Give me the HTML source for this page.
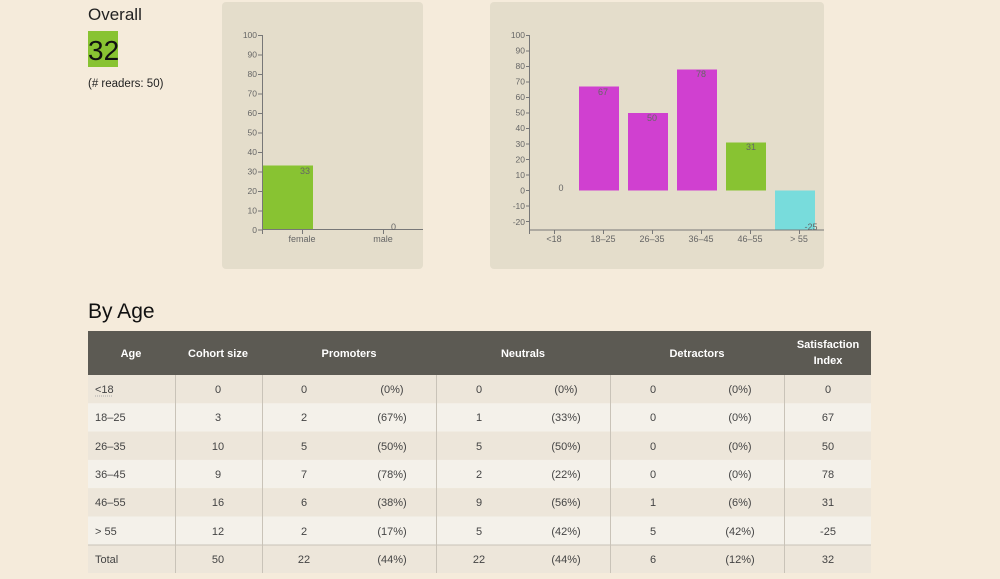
<!DOCTYPE html>
<html><head><meta charset="utf-8"><style>
html,body{margin:0;padding:0;background:#f5ebdb;width:1000px;height:579px;overflow:hidden}
svg{display:block;font-family:"Liberation Sans",sans-serif}
</style></head><body>
<svg width="1000" height="579" viewBox="0 0 1000 579" xmlns="http://www.w3.org/2000/svg">
<rect width="1000" height="579" fill="#f5ebdb"/>
<!-- Overall -->
<text x="88" y="20" font-size="17" fill="#222">Overall</text>
<rect x="88" y="31" width="30" height="36" fill="#88c332"/>
<text x="88" y="60" font-size="28" fill="#111">32</text>
<text x="88" y="87" font-size="11.5" fill="#222">(# readers: 50)</text>

<!-- Chart 1 -->
<rect x="222" y="2" width="201" height="267" rx="4" fill="#e4ddcb"/>
<g font-size="8.5" fill="#666" text-anchor="end">
<text x="257" y="38">100</text><text x="257" y="57.5">90</text><text x="257" y="77">80</text><text x="257" y="96.5">70</text><text x="257" y="116">60</text><text x="257" y="135.5">50</text><text x="257" y="155">40</text><text x="257" y="174.5">30</text><text x="257" y="194">20</text><text x="257" y="213.5">10</text><text x="257" y="233">0</text>
</g>
<g stroke="#777" stroke-width="1">
<line x1="262.5" y1="35" x2="262.5" y2="234"/>
<line x1="258" y1="35.5" x2="262" y2="35.5"/><line x1="258" y1="55" x2="262" y2="55"/><line x1="258" y1="74.5" x2="262" y2="74.5"/><line x1="258" y1="94" x2="262" y2="94"/><line x1="258" y1="113.5" x2="262" y2="113.5"/><line x1="258" y1="133" x2="262" y2="133"/><line x1="258" y1="152.5" x2="262" y2="152.5"/><line x1="258" y1="172" x2="262" y2="172"/><line x1="258" y1="191.5" x2="262" y2="191.5"/><line x1="258" y1="211" x2="262" y2="211"/><line x1="258" y1="230" x2="262" y2="230"/>
</g>
<rect x="263" y="165.5" width="50" height="64" fill="#88c332"/>
<line x1="262" y1="229.5" x2="423" y2="229.5" stroke="#777"/>
<line x1="302.5" y1="229" x2="302.5" y2="234" stroke="#777"/>
<line x1="383.5" y1="229" x2="383.5" y2="234" stroke="#777"/>
<text x="310" y="174" font-size="9" fill="#666" text-anchor="end">33</text>
<text x="396" y="230" font-size="9" fill="#666" text-anchor="end">0</text>
<text x="302" y="242" font-size="9" fill="#666" text-anchor="middle">female</text>
<text x="383" y="242" font-size="9" fill="#666" text-anchor="middle">male</text>

<!-- Chart 2 -->
<rect x="490" y="2" width="334" height="267" rx="4" fill="#e4ddcb"/>
<g font-size="8.5" fill="#666" text-anchor="end">
<text x="525" y="38">100</text><text x="525" y="53.5">90</text><text x="525" y="69">80</text><text x="525" y="84.5">70</text><text x="525" y="100">60</text><text x="525" y="115.5">50</text><text x="525" y="131">40</text><text x="525" y="147">30</text><text x="525" y="162.5">20</text><text x="525" y="178">10</text><text x="525" y="193.5">0</text><text x="525" y="209">-10</text><text x="525" y="225">-20</text>
</g>
<g stroke="#777" stroke-width="1">
<line x1="529.5" y1="35" x2="529.5" y2="234"/>
<line x1="526" y1="35.5" x2="529" y2="35.5"/><line x1="526" y1="51" x2="529" y2="51"/><line x1="526" y1="66.5" x2="529" y2="66.5"/><line x1="526" y1="82" x2="529" y2="82"/><line x1="526" y1="97.5" x2="529" y2="97.5"/><line x1="526" y1="113" x2="529" y2="113"/><line x1="526" y1="128.5" x2="529" y2="128.5"/><line x1="526" y1="144" x2="529" y2="144"/><line x1="526" y1="159.5" x2="529" y2="159.5"/><line x1="526" y1="175" x2="529" y2="175"/><line x1="526" y1="190.5" x2="529" y2="190.5"/><line x1="526" y1="206" x2="529" y2="206"/><line x1="526" y1="221.5" x2="529" y2="221.5"/>
</g>
<rect x="579" y="86.5" width="40" height="104" fill="#d040d0"/>
<rect x="628" y="113" width="40" height="77.5" fill="#d040d0"/>
<rect x="677" y="69.5" width="40" height="121" fill="#d040d0"/>
<rect x="726" y="142.5" width="40" height="48" fill="#88c332"/>
<rect x="775" y="190.5" width="40" height="39" fill="#78dcdc"/>
<line x1="529" y1="230" x2="824" y2="230" stroke="#777"/>
<g stroke="#777"><line x1="554.5" y1="230" x2="554.5" y2="234"/><line x1="603.5" y1="230" x2="603.5" y2="234"/><line x1="652.5" y1="230" x2="652.5" y2="234"/><line x1="701.5" y1="230" x2="701.5" y2="234"/><line x1="750.5" y1="230" x2="750.5" y2="234"/><line x1="799.5" y1="230" x2="799.5" y2="234"/></g>
<g font-size="9" fill="#666" text-anchor="middle">
<text x="561" y="191">0</text><text x="603" y="95">67</text><text x="652" y="121">50</text><text x="701" y="77">78</text><text x="751" y="150">31</text><text x="811" y="230">-25</text>
<text x="554" y="242">&lt;18</text><text x="603" y="242">18–25</text><text x="652" y="242">26–35</text><text x="701" y="242">36–45</text><text x="750" y="242">46–55</text><text x="799" y="242">&gt; 55</text>
</g>

<!-- By Age -->
<text x="88" y="318" font-size="21" fill="#111">By Age</text>
<rect x="88" y="331" width="783" height="44" fill="#5c5a53"/>
<g font-size="11" font-weight="bold" fill="#fff" text-anchor="middle">
<text x="131" y="357">Age</text><text x="218" y="357">Cohort size</text><text x="349" y="357">Promoters</text><text x="523" y="357">Neutrals</text><text x="697" y="357">Detractors</text><text x="828" y="348">Satisfaction</text><text x="828" y="364">Index</text>
</g>
<rect x="88" y="375" width="783" height="28.3" fill="#ede6da"/>
<rect x="88" y="403.3" width="783" height="28.3" fill="#f4f1ea"/>
<rect x="88" y="431.6" width="783" height="28.3" fill="#ede6da"/>
<rect x="88" y="459.9" width="783" height="28.3" fill="#f4f1ea"/>
<rect x="88" y="488.2" width="783" height="28.3" fill="#ede6da"/>
<rect x="88" y="516.5" width="783" height="28.3" fill="#f4f1ea"/>
<rect x="88" y="544.8" width="783" height="28.2" fill="#ede6da"/>
<line x1="88" y1="545" x2="871" y2="545" stroke="#c9c3b8"/>
<g stroke="#c9c3b8"><line x1="175.5" y1="375" x2="175.5" y2="573"/><line x1="262.5" y1="375" x2="262.5" y2="573"/><line x1="436.5" y1="375" x2="436.5" y2="573"/><line x1="610.5" y1="375" x2="610.5" y2="573"/><line x1="784.5" y1="375" x2="784.5" y2="573"/></g>
<line x1="95" y1="396" x2="113" y2="396" stroke="#aaa" stroke-dasharray="1,1"/>
<g font-size="11" fill="#444">
<text x="95" y="393">&lt;18</text><text x="95" y="421">18–25</text><text x="95" y="450">26–35</text><text x="95" y="478">36–45</text><text x="95" y="506">46–55</text><text x="95" y="535">&gt; 55</text><text x="95" y="563">Total</text>
</g>
<g font-size="11" fill="#444" text-anchor="middle">
<text x="218" y="393">0</text><text x="304" y="393">0</text><text x="392" y="393">(0%)</text><text x="479" y="393">0</text><text x="566" y="393">(0%)</text><text x="653" y="393">0</text><text x="740" y="393">(0%)</text><text x="828" y="393">0</text>
<text x="218" y="421">3</text><text x="304" y="421">2</text><text x="392" y="421">(67%)</text><text x="479" y="421">1</text><text x="566" y="421">(33%)</text><text x="653" y="421">0</text><text x="740" y="421">(0%)</text><text x="828" y="421">67</text>
<text x="218" y="450">10</text><text x="304" y="450">5</text><text x="392" y="450">(50%)</text><text x="479" y="450">5</text><text x="566" y="450">(50%)</text><text x="653" y="450">0</text><text x="740" y="450">(0%)</text><text x="828" y="450">50</text>
<text x="218" y="478">9</text><text x="304" y="478">7</text><text x="392" y="478">(78%)</text><text x="479" y="478">2</text><text x="566" y="478">(22%)</text><text x="653" y="478">0</text><text x="740" y="478">(0%)</text><text x="828" y="478">78</text>
<text x="218" y="506">16</text><text x="304" y="506">6</text><text x="392" y="506">(38%)</text><text x="479" y="506">9</text><text x="566" y="506">(56%)</text><text x="653" y="506">1</text><text x="740" y="506">(6%)</text><text x="828" y="506">31</text>
<text x="218" y="535">12</text><text x="304" y="535">2</text><text x="392" y="535">(17%)</text><text x="479" y="535">5</text><text x="566" y="535">(42%)</text><text x="653" y="535">5</text><text x="740" y="535">(42%)</text><text x="828" y="535">-25</text>
<text x="218" y="563">50</text><text x="304" y="563">22</text><text x="392" y="563">(44%)</text><text x="479" y="563">22</text><text x="566" y="563">(44%)</text><text x="653" y="563">6</text><text x="740" y="563">(12%)</text><text x="828" y="563">32</text>
</g>
</svg>
</body></html>
